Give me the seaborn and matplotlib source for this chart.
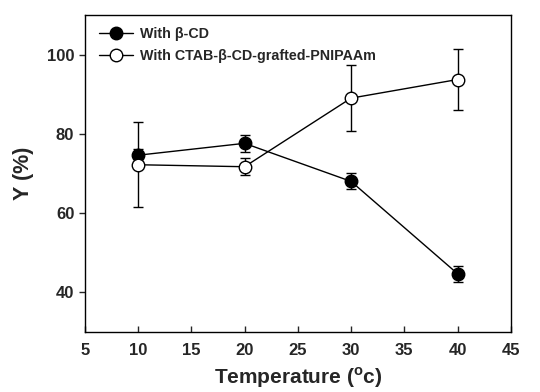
import matplotlib
matplotlib.use("Agg")
import matplotlib.pyplot as plt
import seaborn as sns
import pandas as pd

temperature = [10, 20, 30, 40]
y_bcd = [74.6, 77.6, 68.0, 44.7]
err_bcd = [1.5, 2.2, 2.0, 2.0]
y_ctab = [72.2, 71.7, 89.0, 93.7]
err_ctab = [10.7, 2.1, 8.4, 7.6]
labels = ["With \u03b2-CD", "With CTAB-\u03b2-CD-grafted-PNIPAAm"]

sns.set_style("ticks")
plt.rcParams['font.family'] = ['Liberation Sans', 'DejaVu Sans']
plt.rcParams['font.weight'] = 'bold'
plt.rcParams['mathtext.fontset'] = 'custom'
plt.rcParams['mathtext.rm'] = 'Liberation Sans'
plt.rcParams['mathtext.bf'] = 'Liberation Sans:bold'

df = pd.DataFrame({
    "T": temperature * 2,
    "Y": y_bcd + y_ctab,
    "series": [labels[0]] * 4 + [labels[1]] * 4,
})

fig, ax = plt.subplots(figsize=(5.4, 3.92), dpi=100)
fig.subplots_adjust(left=0.157, right=0.946, top=0.962, bottom=0.153)

ax.errorbar(temperature, y_bcd, yerr=err_bcd, fmt='none', ecolor='black',
            elinewidth=1.0, capsize=3.6, capthick=1.0, zorder=2)
ax.errorbar(temperature, y_ctab, yerr=err_ctab, fmt='none', ecolor='black',
            elinewidth=1.0, capsize=3.6, capthick=1.0, zorder=2)

sns.lineplot(data=df, x="T", y="Y", hue="series", style="series",
             palette=["black", "black"], markers=["o", "o"], dashes=False,
             linewidth=1.0, markersize=9, ax=ax, zorder=3, legend=False)
for ln in ax.get_lines():
    xd = list(ln.get_xdata())
    if len(xd) == 4:
        yd = list(ln.get_ydata())
        if abs(yd[-1] - y_bcd[-1]) < 1e-6:
            ln.set_markerfacecolor('black')
            ln.set_label(labels[0])
        elif abs(yd[-1] - y_ctab[-1]) < 1e-6:
            ln.set_markerfacecolor('white')
            ln.set_label(labels[1])
        ln.set_markeredgecolor('black')
        ln.set_markeredgewidth(1.0)

leg = ax.legend(loc='upper left', frameon=False, fontsize=10.3,
                handlelength=2.35, borderaxespad=0.2, labelspacing=0.58,
                handletextpad=0.55, bbox_to_anchor=(0.013, 0.99))
for t in leg.get_texts():
    t.set_fontweight('bold')

ax.set_xlim(5, 45)
ax.set_ylim(30, 110)
ax.set_xticks([5, 10, 15, 20, 25, 30, 35, 40, 45])
ax.set_yticks([40, 60, 80, 100])
ax.tick_params(axis='x', direction='in', length=4, width=1, labelsize=12, pad=8)
ax.tick_params(axis='y', direction='out', length=4, width=1, labelsize=12)
for lab in ax.get_xticklabels() + ax.get_yticklabels():
    lab.set_fontweight('bold')
for sp in ax.spines.values():
    sp.set_visible(True)
    sp.set_linewidth(1.0)
    sp.set_color('black')

ax.set_xlabel("Temperature ($^{\\rm o}$c)", fontsize=15, fontweight='bold', labelpad=5)
ax.set_ylabel("Y (%)", fontsize=15.5, fontweight='bold', labelpad=9)

fig.savefig("out.png", dpi=100)
